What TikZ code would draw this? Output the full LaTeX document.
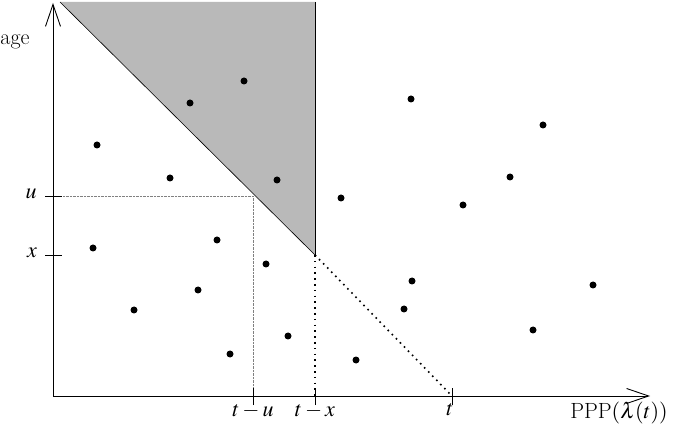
\documentclass[tikz,border=0pt]{standalone}
\usepackage{mathptmx}
\usetikzlibrary{arrows.meta}
\begin{document}
\begin{tikzpicture}[x=1pt,y=-1pt,
  axis/.style={line width=0.9pt,-{Straight Barb[length=22pt,width=15pt,line width=0.9pt]}},
  tick/.style={line width=0.9pt},
  pt/.style={circle,fill=black,inner sep=0pt,minimum size=7pt},
  lab/.style={font=\fontsize{22}{26}\selectfont,inner sep=1pt},
  fine/.style={densely dotted,line width=0.4pt,gray},
  coarse/.style={dash pattern=on 1.6pt off 4.2pt,line width=1.6pt}]
\useasboundingbox (0,0) rectangle (685,435);
% shaded region
\fill[gray!55] (60,2) -- (315,2) -- (315,255) -- cycle;
\draw[line width=0.6pt] (60,2) -- (315,255);
\draw[line width=0.6pt] (315,2) -- (315,255);
% coordinates
\coordinate (O) at (53,396);
\coordinate (ytop) at (53,3);
\coordinate (xend) at (650,396);
\coordinate (V) at (315,255);
\coordinate (Tt) at (452,396);
\coordinate (Tu) at (253,396);
\coordinate (Tx) at (315,396);
\coordinate (Uc) at (253,196);
\coordinate (Yu) at (53,196);
\coordinate (Yx) at (53,255);
% dotted lines
\draw[fine] (Yu) -- (Uc) -- (Tu);
\draw[coarse] (V) -- (Tx);
\draw[coarse] (V) -- (Tt);
% axes
\draw[axis] (O) -- (ytop);
\draw[axis] (O) -- (xend);
% ticks
\foreach \c in {Yu,Yx} \draw[tick] ([xshift=-8pt]\c) -- ([xshift=9pt]\c);
\foreach \c in {Tu,Tx,Tt} \draw[tick] ([yshift=-9pt]\c) -- ([yshift=8pt]\c);
% labels
\node[lab] (lu) at (31,194) {$u$};
\node[lab] (lx) at (32,253) {$x$};
\node[lab] (ltu) at (253,411) {$t-u$};
\node[lab] (ltx) at (315,411) {$t-x$};
\node[lab] (lt) at (450,410) {$t$};
\node[lab] (lage) at (15,42) {age};
\node[lab] (lppp) at (619,413) {PPP$(\lambda(t))$};
% points
\foreach \x/\y in {97/145,190/103,244/81,170/178,277/180,93/248,217/240,266/264,
  198/290,134/310,288/336,230/354,341/198,411/99,543/125,510/177,463/205,
  412/281,404/309,593/285,533/330,356/360}
  \node[pt] at (\x,\y) {};
\end{tikzpicture}
\end{document}
